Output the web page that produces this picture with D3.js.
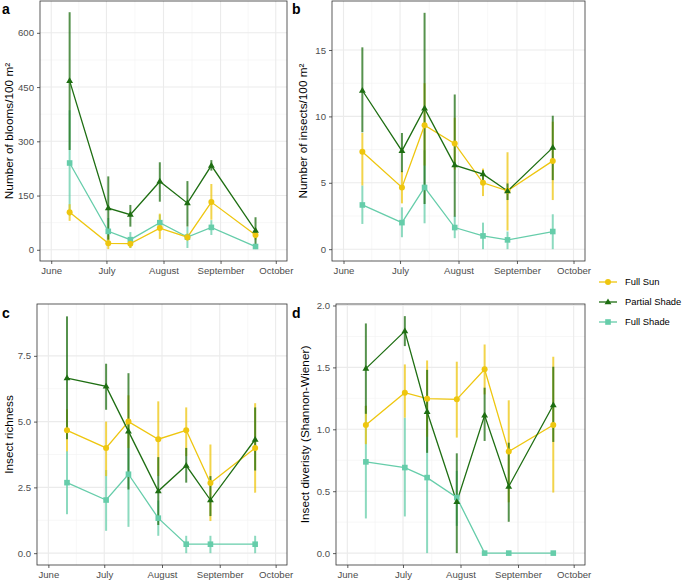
<!DOCTYPE html>
<html><head><meta charset="utf-8">
<script src="https://cdn.jsdelivr.net/npm/d3@7"></script>
<style>body{margin:0;background:#fff}svg{display:block;font-family:"Liberation Sans",Arial,sans-serif}</style>
</head><body><svg id="c" width="685" height="582"></svg>
<script>
// ---- data ----
const dates = ["2019-06-11","2019-07-02","2019-07-14","2019-07-30","2019-08-14","2019-08-27","2019-09-20"];
const monthTicks = ["2019-06-01","2019-07-01","2019-08-01","2019-09-01","2019-10-01"];
const monthLabels = ["June","July","August","September","October"];
const seriesNames = ["Full Sun","Partial Shade","Full Shade"];
const seriesColors = ["#EEC60F","#1E6E12","#66CDAA"];

// panel a: blooms
const bloomsSun = [104,18,17,60,35,132,41];
const bloomsSunLo = [80,2,5,30,25,83,28];
const bloomsSunHi = [126,40,30,100,45,182,55];
const bloomsPart = [467,115,97,189,129,233,53];
const bloomsPartLo = [276,28,64,133,64,219,14];
const bloomsPartHi = [657,203,124,242,190,248,90];
const bloomsShade = [240,51,28,75,35,62,9];
const bloomsShadeLo = [94,14,5,55,5,41,2];
const bloomsShadeHi = [386,88,49,97,63,82,14];

// panel b: insects
const insSun = [7.33,4.65,9.33,7.95,5.0,4.4,6.65];
const insSunLo = [4.8,3.45,6.3,6.0,4.0,1.4,3.7];
const insSunHi = [8.75,5.9,12.5,9.9,6.07,7.3,9.6];
const insPart = [11.95,7.4,10.6,6.33,5.65,4.38,7.65];
const insPartLo = [8.8,5.8,3.4,2.45,5.2,3.7,5.2];
const insPartHi = [15.2,8.75,17.8,11.65,5.95,4.95,10.05];
const insShade = [3.33,2.0,4.65,1.63,1.0,0.7,1.33];
const insShadeLo = [1.9,0.9,1.95,0.83,0,0,0];
const insShadeHi = [4.8,3.15,7.45,2.5,2.0,1.33,2.63];

// panel c: richness
const richSun = [4.67,4.0,5.0,4.33,4.67,2.67,4.0];
const richSunLo = [3.87,2.93,4.0,2.93,3.69,1.22,2.3];
const richSunHi = [5.47,5.0,6.0,5.77,5.54,4.13,5.7];
const richPart = [6.65,6.34,4.63,2.36,3.33,2.02,4.32];
const richPartLo = [4.33,5.45,2.42,1.07,2.68,1.41,3.14];
const richPartHi = [9.0,7.2,6.84,3.65,4.0,2.93,5.54];
const richShade = [2.68,2.02,3.0,1.33,0.34,0.34,0.34];
const richShadeLo = [1.48,0.85,1.0,0.66,0,0,0];
const richShadeHi = [3.88,3.16,5.0,2.0,0.66,0.66,0.66];

// panel d: diversity
const divSun = [1.035,1.296,1.247,1.242,1.484,0.82,1.035];
const divSunLo = [0.88,1.094,0.94,0.933,1.282,0.41,0.489];
const divSunHi = [1.19,1.524,1.556,1.546,1.685,1.234,1.586];
const divPart = [1.49,1.793,1.142,0.414,1.113,0.538,1.196];
const divPartLo = [1.125,1.672,0.81,0,0.906,0.253,0.898];
const divPartHi = [1.855,1.914,1.48,0.806,1.336,0.892,1.505];
const divShade = [0.737,0.691,0.61,0.449,0,0,0];
const divShadeLo = [0.28,0.296,0,0.22,0,0,0];
const divShadeHi = [1.19,1.094,1.22,0.664,0,0,0];

const ticksA = [0,150,300,450,600];
const ticksB = [0,5,10,15];
const ticksC = [0,2.5,5,7.5];
const ticksD = [0,0.5,1,1.5,2];

// ---- build ----
const parse = d3.timeParse("%Y-%m-%d");
function mk(m,lo,hi){return m.map((v,i)=>({date:parse(dates[i]),v:v,lo:lo[i],hi:hi[i]}));}

const panels = [
 {label:"a", title:"Number of blooms/100 m\u00B2", box:[40,287,1,261], ydom:[-31,688], ticks:ticksA, fmt:d3.format("d"), titleX:9,
  series:[mk(bloomsSun,bloomsSunLo,bloomsSunHi),mk(bloomsPart,bloomsPartLo,bloomsPartHi),mk(bloomsShade,bloomsShadeLo,bloomsShadeHi)], lx:2, ly:14},
 {label:"b", title:"Number of insects/100 m\u00B2", box:[332,585,1,261], ydom:[-0.89,18.69], ticks:ticksB, fmt:d3.format("d"), titleX:303,
  series:[mk(insSun,insSunLo,insSunHi),mk(insPart,insPartLo,insPartHi),mk(insShade,insShadeLo,insShadeHi)], lx:292, ly:14},
 {label:"c", title:"Insect richness", box:[37,287,304,565], ydom:[-0.45,9.47], ticks:ticksC, fmt:d3.format(".1f"), titleX:9,
  series:[mk(richSun,richSunLo,richSunHi),mk(richPart,richPartLo,richPartHi),mk(richShade,richShadeLo,richShadeHi)], lx:2, ly:318},
 {label:"d", title:"Insect diveristy (Shannon-Wiener)", box:[336,585,304,565], ydom:[-0.096,2.012], ticks:ticksD, fmt:d3.format(".1f"), titleX:305,
  series:[mk(divSun,divSunLo,divSunHi),mk(divPart,divPartLo,divPartHi),mk(divShade,divShadeLo,divShadeHi)], lx:292, ly:318}
];

const svg = d3.select("#c");
const tStart = parse(monthTicks[0]), tEnd = parse(monthTicks[monthTicks.length-1]);
const span = tEnd - tStart;
const xdom = [new Date(+tStart - span*0.05), new Date(+tEnd + span*0.05)];
const majorX = monthTicks.map(parse);
const minorX = majorX.slice(0,-1).map((d,i)=>new Date((+d + +majorX[i+1])/2));
const drawOrder = [2,0,1];

function shape(g, idx, x, y, color){
  if(idx===0){ g.append("circle").attr("cx",x).attr("cy",y).attr("r",3).attr("fill",color); }
  else if(idx===1){ const s=3.6; g.append("path").attr("d",`M${x},${y-s}L${x+s*0.95},${y+s*0.6}L${x-s*0.95},${y+s*0.6}Z`).attr("fill",color); }
  else { g.append("rect").attr("x",x-2.8).attr("y",y-2.8).attr("width",5.6).attr("height",5.6).attr("fill",color); }
}

panels.forEach(p=>{
  const [L,R,T,B] = p.box;
  const x = d3.scaleTime().domain(xdom).range([L,R]);
  const y = d3.scaleLinear().domain(p.ydom).range([B,T]);
  const g = svg.append("g");
  const minorY = p.ticks.slice(0,-1).map((d,i)=>(d+p.ticks[i+1])/2);
  // grid
  g.selectAll(".mx").data(minorX).join("line").attr("x1",d=>x(d)).attr("x2",d=>x(d)).attr("y1",T).attr("y2",B).attr("stroke","#f2f2f2").attr("stroke-width",0.6);
  g.selectAll(".my").data(minorY).join("line").attr("y1",d=>y(d)).attr("y2",d=>y(d)).attr("x1",L).attr("x2",R).attr("stroke","#f2f2f2").attr("stroke-width",0.6);
  g.selectAll(".Mx").data(majorX).join("line").attr("x1",d=>x(d)).attr("x2",d=>x(d)).attr("y1",T).attr("y2",B).attr("stroke","#ebebeb").attr("stroke-width",1.1);
  g.selectAll(".My").data(p.ticks).join("line").attr("y1",d=>y(d)).attr("y2",d=>y(d)).attr("x1",L).attr("x2",R).attr("stroke","#ebebeb").attr("stroke-width",1.1);
  // axes
  const xa = g.append("g").attr("transform",`translate(0,${B})`)
    .call(d3.axisBottom(x).tickValues(majorX).tickSize(3).tickPadding(3).tickFormat((d,i)=>monthLabels[i]));
  const ya = g.append("g").attr("transform",`translate(${L},0)`)
    .call(d3.axisLeft(y).tickValues(p.ticks).tickSize(3).tickPadding(3).tickFormat(p.fmt));
  [xa,ya].forEach(a=>{
    a.select(".domain").remove();
    a.selectAll("line").attr("stroke","#333").attr("stroke-width",0.8);
    a.selectAll("text").attr("fill","#4d4d4d").style("font-size","9.6px").style("font-family","'Liberation Sans',Arial,sans-serif");
  });
  // data
  const clip = "clip"+p.label;
  svg.append("clipPath").attr("id",clip).append("rect").attr("x",L).attr("y",T).attr("width",R-L).attr("height",B-T);
  const dg = g.append("g").attr("clip-path",`url(#${clip})`);
  drawOrder.forEach(si=>{
    dg.selectAll(null).data(p.series[si]).join("line")
      .attr("x1",d=>x(d.date)).attr("x2",d=>x(d.date)).attr("y1",d=>y(d.lo)).attr("y2",d=>y(d.hi))
      .attr("stroke",seriesColors[si]).attr("stroke-width",2).attr("stroke-opacity",0.75);
  });
  const line = d3.line().x(d=>x(d.date)).y(d=>y(d.v));
  drawOrder.forEach(si=>{
    dg.append("path").datum(p.series[si]).attr("d",line).attr("fill","none").attr("stroke",seriesColors[si]).attr("stroke-width",1.3);
  });
  drawOrder.forEach(si=>{
    p.series[si].forEach(d=>shape(dg,si,x(d.date),y(d.v),seriesColors[si]));
  });
  // border
  g.append("rect").attr("x",L).attr("y",T).attr("width",R-L).attr("height",B-T).attr("fill","none").attr("stroke","#333").attr("stroke-width",0.8);
  // titles
  g.append("text").attr("transform",`translate(${p.titleX+4},${(T+B)/2}) rotate(-90)`).attr("text-anchor","middle")
    .style("font-size","11.8px").attr("fill","#000").text(p.title);
  g.append("text").attr("x",p.lx).attr("y",p.ly).style("font-size","14px").style("font-weight","bold").text(p.label);
});

// legend
const lg = svg.append("g");
seriesNames.forEach((n,i)=>{
  const yy = 282 + i*20;
  lg.append("line").attr("x1",599).attr("x2",617).attr("y1",yy).attr("y2",yy).attr("stroke",seriesColors[i]).attr("stroke-width",1.3);
  shape(lg,i,608,yy,seriesColors[i]);
  lg.append("text").attr("x",625).attr("y",yy+3.4).style("font-size","9.4px").attr("fill","#000").text(n);
});
</script></body></html>
